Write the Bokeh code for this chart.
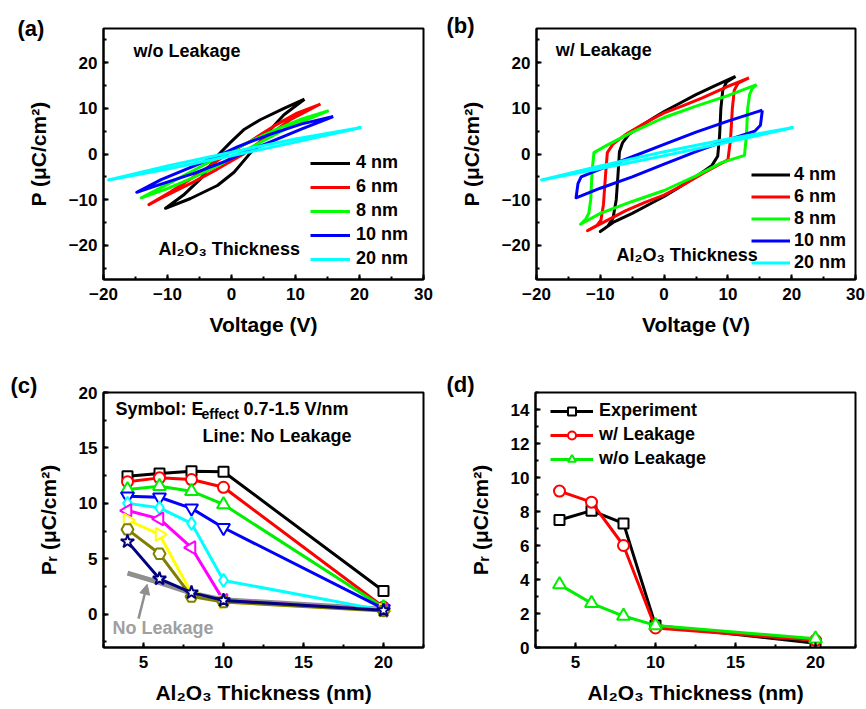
from bokeh.plotting import figure
from bokeh.models import Legend, LegendItem, Label, Arrow, NormalHead, SingleIntervalTicker
from bokeh.layouts import column, row
from bokeh.embed import file_html
from bokeh.resources import INLINE

FONT = "Liberation Sans"

# ---------------- data ----------------
thick_labels = ["4 nm", "6 nm", "8 nm", "10 nm", "20 nm"]
loop_colors = ["#000000", "#ff0000", "#00ff00", "#0000ff", "#00ffff"]

# (a) w/o leakage loops (V, P)
a4_V = [11.4, 8.2, 4.5, 1.9, -0.2, -2.2, -4.8, -7.5, -10.3, -6.4, -2.2, 0.4, 3.0, 5.6, 8.2, 11.4]
a4_P = [12.0, 10.0, 7.5, 5.3, 2.5, -0.4, -5.4, -9.0, -11.9, -9.75, -6.9, -4.0, 0.3, 4.6, 8.6, 12.0]
a6_V = [13.9, 10.25, 6.6, 3.0, -0.7, -4.8, -9.5, -12.9, -11.1, -5.9, -2.2, 1.9, 5.6, 9.2, 13.9]
a6_P = [10.95, 8.95, 6.1, 2.85, 0.0, -4.0, -8.3, -11.1, -9.75, -6.1, -3.3, 0.0, 3.9, 7.5, 10.95]
a8_V = [15.2, 11, 7, 3, -1, -5, -9, -14.1, -10, -6, -2, 1, 5, 9, 15.2]
a8_P = [9.5, 7.7, 5.4, 2.8, 0.0, -2.9, -5.9, -9.6, -7.6, -5.2, -2.5, 0.0, 2.9, 5.9, 9.5]
a10_V = [15.9, 11, 6, 1, -1.5, -6, -11, -14.8, -11, -6, -1, 1.5, 6, 11, 15.9]
a10_P = [8.2, 6.6, 4.3, 1.6, 0.0, -2.7, -5.6, -8.4, -6.6, -4.3, -1.6, 0.0, 2.6, 5.5, 8.2]
a20_V = [20.3, 10, 0, -10, -19.2, -10, 0, 10, 20.3]
a20_P = [5.8, 3.3, 0.4, -2.6, -5.7, -3.3, -0.4, 2.6, 5.8]

# (b) w/ leakage loops (V, P)
b4_V = [11.2, 8, 5, 2, 0, -2, -4, -5.5, -6.5, -7.0, -7.2, -7.5, -8.0, -8.8, -10.0,
        -8, -5, -2, 0, 2, 4, 6, 7.5, 8.4, 8.7, 8.9, 9.2, 9.8, 11.2]
b4_P = [17.0, 15.0, 13.0, 10.8, 9.3, 7.6, 5.8, 4.3, 2.5, 0.5, -4.0, -10.0, -14.0, -15.8, -17.0,
        -15.0, -13.0, -10.8, -9.3, -7.6, -5.8, -4.0, -2.5, -0.5, 4.0, 10.0, 14.0, 15.8, 17.0]
b6_V = [13.3, 10, 6, 3, 0, -3, -6, -8.0, -8.9, -9.2, -9.5, -9.9, -10.5, -12.0,
        -9, -6, -3, 0, 3, 6, 8.5, 10.0, 10.4, 10.7, 11.0, 11.6, 13.3]
b6_P = [16.7, 14.8, 12.3, 10.6, 9.0, 6.8, 4.3, 2.2, 0.3, -5.0, -11.0, -14.5, -15.6, -16.8,
        -14.6, -12.4, -10.6, -9.0, -6.8, -4.3, -2.4, -1.3, 3.0, 10.0, 14.0, 15.5, 16.7]
b8_V = [14.5, 10, 5, 0, -5, -9, -11.0, -11.3, -11.5, -11.8, -12.3, -13.1,
        -10, -5, 0, 5, 9, 12.6, 12.9, 13.1, 13.4, 13.8, 14.5]
b8_P = [15.2, 12.8, 10.5, 8.0, 4.8, 1.9, 0.3, -4.0, -10.0, -13.0, -14.3, -15.4,
        -13.0, -10.4, -8.0, -4.8, -1.9, -0.3, 4.0, 10.0, 13.0, 14.3, 15.2]
b10_V = [15.4, 10, 5, 0, -5, -10, -13.0, -13.5, -13.8, -10, -5, 0, 5, 10, 14.2, 15.1, 15.4]
b10_P = [9.6, 7.2, 4.8, 2.1, -0.6, -3.3, -5.0, -6.5, -9.6, -7.5, -5.0, -2.2, 0.5, 3.1, 5.0, 6.3, 9.6]
b20_V = [20.3, 10, 0, -10, -19.2, -10, 0, 10, 20.3]
b20_P = [5.8, 3.3, 0.5, -2.6, -5.7, -3.2, -0.4, 2.6, 5.8]

# (c) Pr vs thickness
c_x = [4, 6, 8, 10, 20]
c_series = [
    [12.45, 12.7, 12.9, 12.85, 2.1],
    [11.95, 12.3, 12.15, 11.45, 0.65],
    [11.25, 11.55, 11.1, 9.9, 0.6],
    [10.65, 10.55, 9.55, 7.8, 0.5],
    [10.0, 9.6, 8.2, 3.05, 0.35],
    [9.35, 8.6, 6.0, 1.25, 0.35],
    [8.5, 7.2, 1.9, 1.1, 0.35],
    [7.65, 5.45, 1.6, 1.1, 0.3],
    [6.55, 3.2, 1.95, 1.25, 0.35],
]
c_colors = ["#000000", "#ff0000", "#00ee00", "#0000ff", "#00ffff", "#ff00ff", "#ffff00", "#808000", "#000080"]
c_markers = ["square", "circle", "triangle", "inverted_triangle", "diamond", "triangle", "triangle", "hex", "star"]
c_angles = [0, 0, 0, 0, 0, 1.5708, -1.5708, 0, 0]
c_sizes = [10, 11, 13, 13, 13, 13, 13, 12, 14]
c_noleak = [3.7, 2.85, 1.9, 1.3, 0.45]

# (d)
d_x = [4, 6, 8, 10, 20]
d_exp = [7.5, 8.05, 7.3, 1.3, 0.25]
d_wl = [9.2, 8.55, 6.0, 1.15, 0.42]
d_wol = [3.7, 2.6, 1.85, 1.3, 0.52]
d_labels = ["Experiment", "w/ Leakage", "w/o Leakage"]


def style(p, xint, yint):
    p.xgrid.visible = False
    p.ygrid.visible = False
    p.outline_line_color = "black"
    p.outline_line_width = 2
    p.outline_line_alpha = 1
    p.background_fill_color = "white"
    p.border_fill_color = "white"
    p.xaxis.ticker = SingleIntervalTicker(interval=xint, num_minor_ticks=2)
    p.yaxis.ticker = SingleIntervalTicker(interval=yint, num_minor_ticks=2)
    for ax in (p.xaxis[0], p.yaxis[0]):
        ax.axis_line_width = 2
        ax.axis_line_color = "black"
        ax.major_tick_in = 5
        ax.major_tick_out = 0
        ax.minor_tick_in = 3
        ax.minor_tick_out = 0
        ax.major_tick_line_width = 2
        ax.minor_tick_line_width = 2
        ax.major_tick_line_color = "black"
        ax.minor_tick_line_color = "black"
        ax.major_label_text_font = FONT
        ax.major_label_text_font_size = "17px"
        ax.major_label_text_font_style = "bold"
        ax.major_label_text_color = "black"
        ax.axis_label_text_font = FONT
        ax.axis_label_text_font_size = "21px"
        ax.axis_label_text_font_style = "bold"
        ax.axis_label_text_color = "black"
    p.xaxis.major_label_standoff = 8
    p.yaxis.major_label_standoff = 6
    p.xaxis.axis_label_standoff = 10
    p.yaxis.axis_label_standoff = 16


def txt(p, x, y, s, size="18px", color="black", align="left", baseline="alphabetic", xo=0, yo=6):
    p.add_layout(Label(x=x, y=y, text=s, text_font=FONT, text_font_size=size, text_font_style="bold",
                       text_color=color, text_align=align, text_baseline=baseline, x_offset=xo, y_offset=yo))


def tag(p, s, offset, standoff):
    p.title.text = s
    p.title.align = "left"
    p.title.vertical_align = "bottom"
    p.title.offset = offset
    p.title.standoff = standoff
    p.title.text_font = FONT
    p.title.text_font_size = "22px"
    p.title.text_font_style = "bold"
    p.title.text_color = "black"


def legend(items, loc, sp, gh, gw, st):
    return Legend(items=items, location=loc, padding=0, margin=0, spacing=sp,
                  glyph_width=gw, glyph_height=gh, label_height=gh, label_standoff=st,
                  label_text_font=FONT, label_text_font_size="18px", label_text_font_style="bold",
                  label_text_color="black", background_fill_alpha=0, border_line_alpha=0)


def loop_panel(loops, min_top, min_bot, min_right, title, tg, tag_off, tag_so, title_xy, thick_xy, leg_loc, leg_sp, leg_gh, leg_gw, leg_st):
    p = figure(width=433, height=354, x_range=(-20, 30), y_range=(-27.5, 27.5),
               output_backend="svg", toolbar_location=None,
               min_border_left=103, min_border_right=min_right, min_border_top=min_top, min_border_bottom=min_bot)
    style(p, 10, 10)
    p.xaxis.axis_label = "Voltage (V)"
    p.yaxis.axis_label = "P (\u03bcC/cm\u00b2)"
    items = []
    for (V, P), c, lab in zip(loops, loop_colors, thick_labels):
        r = p.line(V, P, line_color=c, line_width=3, line_join="round")
        items.append(LegendItem(label=lab, renderers=[r]))
    p.add_layout(legend(items, leg_loc, leg_sp, leg_gh, leg_gw, leg_st))
    tag(p, tg, tag_off, tag_so)
    txt(p, title_xy[0], title_xy[1], title)
    txt(p, thick_xy[0], thick_xy[1], "Al\u2082O\u2083 Thickness")
    return p


pa = loop_panel([(a4_V, a4_P), (a6_V, a6_P), (a8_V, a8_P), (a10_V, a10_P), (a20_V, a20_P)],
                24, 75, 10, "w/o Leakage", "(a)", -86, -24, (-15.3, 21.25), (-11.4, -22.1),
                (207, 10), 3, 20, 40, 6)
pb = loop_panel([(b4_V, b4_P), (b6_V, b6_P), (b8_V, b8_P), (b10_V, b10_P), (b20_V, b20_P)],
                28, 69, 11, "w/ Leakage", "(b)", -90, -18, (-17.0, 21.5), (-7.46, -23.5),
                (215, 6), 1, 21, 39, 4)

# (c)
pc = figure(width=433, height=355, x_range=(2.5, 22.5), y_range=(-3, 20),
            output_backend="svg", toolbar_location=None,
            min_border_left=103, min_border_right=10, min_border_top=37, min_border_bottom=62)
style(pc, 5, 5)
pc.xaxis.axis_label = "Al\u2082O\u2083 Thickness (nm)"
pc.yaxis.axis_label = "P\u1d63 (\u03bcC/cm\u00b2)"
gray = "#8f8f8f"
pc.line(c_x, c_noleak, line_color=gray, line_width=5)
for ys, col, mk, ang, sz in zip(c_series, c_colors, c_markers, c_angles, c_sizes):
    pc.line(c_x, ys, line_color=col, line_width=3)
    pc.scatter(c_x, ys, marker=mk, angle=ang, size=sz, line_color=col, line_width=2, fill_color="white")
pc.add_layout(Arrow(end=NormalHead(size=10, fill_color=gray, line_color=gray), x_start=4.69, y_start=-0.4,
                    x_end=5.23, y_end=2.7, line_color=gray, line_width=2.5))
tag(pc, "(c)", -93, -10)
txt(pc, 3.25, 18.0, "Symbol: E")
txt(pc, 3.25, 18.0, "effect", size="14px", xo=86, yo=1)
txt(pc, 3.25, 18.0, "0.7-1.5 V/nm", xo=128)
txt(pc, 8.69, 15.53, "Line: No Leakage")
txt(pc, 3.06, -1.77, "No Leakage", color="#a0a0a0")

# (d)
pd_ = figure(width=433, height=355, x_range=(2.5, 22.5), y_range=(0, 15),
             output_backend="svg", toolbar_location=None,
             min_border_left=102, min_border_right=11, min_border_top=38, min_border_bottom=62)
style(pd_, 5, 2)
pd_.xaxis.axis_label = "Al\u2082O\u2083 Thickness (nm)"
pd_.yaxis.axis_label = "P\u1d63 (\u03bcC/cm\u00b2)"
d_items = []
for ys, col, mk, sz, lab in zip([d_exp, d_wl, d_wol], ["#000000", "#ff0000", "#00ee00"],
                                ["square", "circle", "triangle"], [10, 11, 13], d_labels):
    l = pd_.line(d_x, ys, line_color=col, line_width=3)
    s = pd_.scatter(d_x, ys, marker=mk, size=sz, line_color=col, line_width=2, fill_color="white")
    d_items.append(LegendItem(label=lab, renderers=[l, s]))
pd_.add_layout(legend(d_items, (15, 178), 3, 20, 43, 6))
tag(pd_, "(d)", -89, -8)

layout = column(row(pa, pb, spacing=0), row(pc, pd_, spacing=0), spacing=0)
open("out.html", "w").write(file_html(layout, INLINE))
